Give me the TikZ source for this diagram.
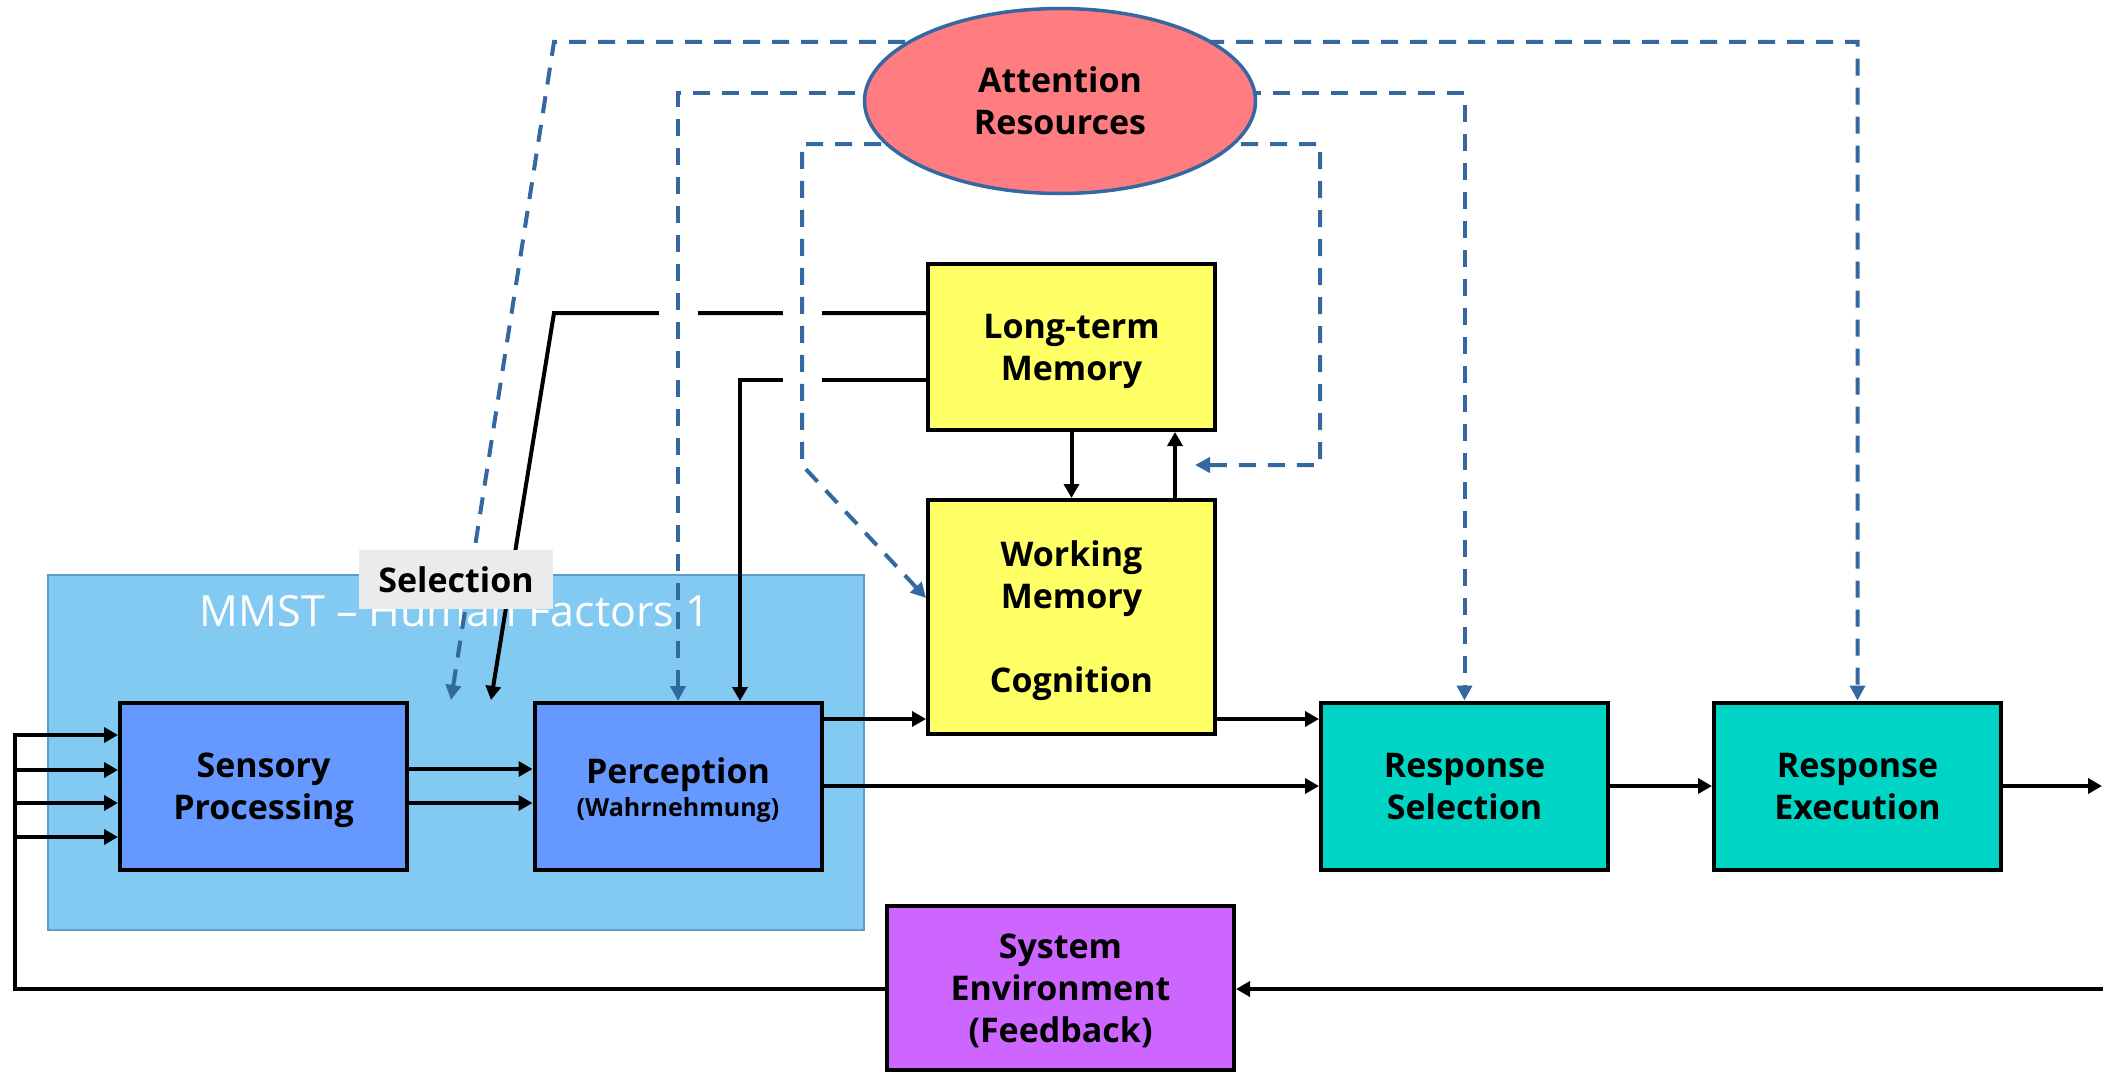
\documentclass[tikz,border=0pt]{standalone}
\usepackage{fontspec}
\setmainfont{Open Sans}
\usetikzlibrary{arrows.meta,shapes.geometric,calc}
\definecolor{sensblue}{RGB}{102,153,255}
\definecolor{grpblue}{RGB}{130,202,241}
\definecolor{grpedge}{RGB}{96,156,200}
\definecolor{memyellow}{RGB}{255,255,102}
\definecolor{resteal}{RGB}{0,212,196}
\definecolor{envpurple}{RGB}{204,102,255}
\definecolor{attred}{RGB}{255,124,128}
\definecolor{attedge}{RGB}{52,104,160}
\definecolor{lblgray}{RGB}{235,235,235}
\pgfdeclarelayer{back}
\pgfdeclarelayer{wires}
\pgfsetlayers{back,wires,main}
% fixed line extents, so every box label is centred the same way
\newcommand\linestrut{\rule[-8.7pt]{0pt}{41.7pt}}
\newcommand\toplift{\rule{0pt}{33pt}}

\begin{document}
\begin{tikzpicture}[x=1pt,y=-1pt,
  boxfont/.style={font=\fontsize{34}{42}\selectfont\bfseries},
  box/.style={draw=black,line width=4pt,inner sep=0pt,align=center,
    minimum width=287pt,minimum height=167pt,boxfont},
  wire/.style={draw=black,line width=4pt,-{Triangle[length=14pt,width=15pt]}},
  attn/.style={draw=attedge,line width=4pt,dash pattern=on 17pt off 12pt,
    {Triangle[length=15pt,width=15pt]}-{Triangle[length=15pt,width=15pt]}},
  bridge/.style={fill=white}
]
\useasboundingbox (0,0) rectangle (2103,1073);

% processing stages
\node[box,fill=sensblue] (sens) at (263.5,786.5)
  {\linestrut Sensory\\\linestrut Processing};
\node[box,fill=sensblue] (perc) at (678,786.5)
  {\toplift Perception\\[-8.5pt]{\fontsize{25}{30}\selectfont (Wahrnehmung)}};
\node[box,fill=memyellow,minimum height=166pt] (ltm) at (1071.5,347)
  {\linestrut Long-term\\\linestrut Memory};
\node[box,fill=memyellow,minimum height=234pt] (wm) at (1071.5,617)
  {\linestrut Working\\Memory\\[42pt]\linestrut Cognition};
\node[box,fill=resteal] (rs) at (1464.5,786)
  {\linestrut Response\\\linestrut Selection};
\node[box,fill=resteal] (re) at (1857.5,786)
  {\linestrut Response\\\linestrut Execution};
\node[box,fill=envpurple,minimum width=347pt,minimum height=164pt] (se) at (1060.5,988)
  {\linestrut System\\Environment\\\linestrut (Feedback)};
\node[ellipse,draw=attedge,fill=attred,line width=3.5pt,inner sep=0pt,
  minimum width=391pt,minimum height=185pt,align=center,boxfont] (att) at (1060,101)
  {Attention\\Resources};
\node[fill=lblgray,inner sep=0pt,minimum width=194pt,minimum height=59pt,boxfont]
  (sel) at (456,579.5) {Selection};

% course block behind the perceptual stages
\begin{pgfonlayer}{back}
  \fill[white] (0,0) rectangle (2103,1073);
  \node[draw=grpedge,fill=grpblue,line width=2.5pt,inner sep=0pt,
    minimum width=816pt,minimum height=355pt] (grp) at (456,752.5) {};
  \node[anchor=base,text=white,font=\fontsize{43}{50}\selectfont,inner sep=0pt]
    (grptitle) at (455,626) {MMST – Human Factors 1};
\end{pgfonlayer}

\begin{pgfonlayer}{wires}
  \coordinate (selA) at (451,700);
  \coordinate (selB) at (491,700);
  \coordinate (outR) at (2102,786);
  \coordinate (fbR) at (2103,989);
  \coordinate (fbL) at (15,989);
  \coordinate (inTop) at (15,735);
  \coordinate (gapTip) at (1195,465);
  \coordinate (ltmA) at (554,313);
  \coordinate (ltmB) at (740,380);

  % information flow
  \draw[wire] (sens.east |- 0,769) -- (perc.west |- 0,769);
  \draw[wire] (sens.east |- 0,803) -- (perc.west |- 0,803);
  \draw[wire] (perc.east |- 0,719) -- (wm.west |- 0,719);
  \draw[wire] (perc.east |- 0,786) -- (rs.west |- 0,786);
  \draw[wire] (wm.east |- 0,719) -- (rs.west |- 0,719);
  \draw[wire] (rs.east |- 0,786) -- (re.west |- 0,786);
  \draw[wire] (re.east |- 0,786) -- (outR);
  \draw[wire] (fbR) -- (se.east |- fbR);
  \draw[wire] (se.west |- fbL) -- (fbL) -- (inTop) -- (sens.west |- inTop);
  \foreach \yy in {770,803,837}
    \draw[wire] (fbL |- 0,\yy) -- (sens.west |- 0,\yy);
  \draw[wire] (ltm.south) -- (wm.north);
  \draw[wire] (wm.north -| 1175,0) -- (ltm.south -| 1175,0);
  \draw[wire] (ltm.west |- ltmA) -- (ltmA) -- (selB);
  \draw[wire] (ltm.west |- ltmB) -- (ltmB) -- (perc.north -| ltmB);

  % gaps where the attention lines cross
  \fill[bridge] (658.5,305) rectangle (697.5,321);
  \fill[bridge] (782.5,305) rectangle (821.5,321);
  \fill[bridge] (782.5,372) rectangle (821.5,388);

  % attention resources
  \draw[attn] (selA) -- (554,42) -- (re.north |- 0,42) -- (re.north);
  \draw[attn] (perc.north) -- (perc.north |- 0,93) -- (rs.north |- 0,93) -- (rs.north);
  \draw[attn] ($(wm.west)+(0,-19)$) -- (802,465) -- (802,144) -- (1320,144)
    -- (1320,465) -- (gapTip);
\end{pgfonlayer}
\end{tikzpicture}
\end{document}
